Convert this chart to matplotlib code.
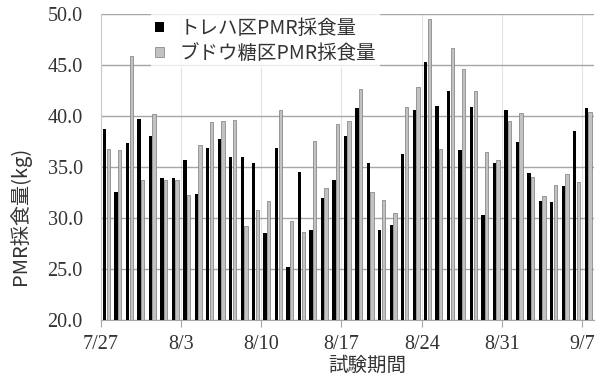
import numpy as np
import matplotlib
matplotlib.use("Agg")
import matplotlib.pyplot as plt

# Daily PMR intake (kg), 7/27 .. 9/7
treha = [38.7, 32.5, 37.3, 39.7, 38.0, 33.9, 33.9, 35.7, 32.3, 36.8,
         37.7, 36.0, 36.0, 35.4, 28.5, 36.8, 25.2, 34.5, 28.8, 31.9,
         33.7, 38.0, 40.8, 35.4, 28.8, 29.3, 36.3, 40.6, 45.3, 41.0,
         42.4, 36.6, 40.9, 30.3, 35.4, 40.6, 37.4, 34.4, 31.6, 31.5,
         33.1, 38.5, 40.8]
glucose = [36.7, 36.6, 45.9, 33.7, 40.2, 33.7, 33.7, 32.2, 37.1, 39.4,
           39.5, 39.6, 29.2, 30.8, 31.6, 40.6, 29.7, 28.6, 37.5, 32.9,
           39.2, 39.5, 42.6, 32.5, 31.7, 30.5, 40.9, 42.8, 49.5, 36.7,
           46.7, 44.6, 42.4, 36.4, 35.7, 39.5, 40.3, 34.0, 32.1, 33.2,
           34.3, 33.5, 40.4]
tick_labels = ["7/27", "8/3", "8/10", "8/17", "8/24", "8/31", "9/7"]
series_names = ["トレハ区PMR採食量", "ブドウ糖区PMR採食量"]

JP = ["Noto Sans CJK JP", "DejaVu Sans"]
NUM = "Liberation Serif"

fig = plt.figure(figsize=(6.14, 3.76), dpi=100)
ax = fig.add_axes([0.164, 0.150, 0.803, 0.813])

n = len(treha)
x = np.arange(n) + 0.5
w = 0.29
ax.bar(x - 0.16, treha, width=w, color="black", zorder=3, label=series_names[0])
ax.bar(x + 0.16, glucose, width=w, color="#c2c2c2", edgecolor="#7a7a7a",
       linewidth=0.5, zorder=3, label=series_names[1])

ax.set_xlim(0, n)
ax.set_ylim(20, 50)
ax.set_yticks(np.arange(20, 50.1, 5))
ax.set_yticklabels([f"{v:.1f}" for v in np.arange(20, 50.1, 5)],
                   fontfamily=NUM, fontsize=14.5)
ax.set_xticks(np.arange(0, n, 7))
ax.set_xticklabels(tick_labels, fontfamily=NUM, fontsize=14.5)

ax.grid(axis="y", color="#a6a6a6", linewidth=1.0, zorder=0)
ax.grid(axis="x", color="#e2e2e2", linewidth=0.8, zorder=0)
ax.set_axisbelow(True)

for s in ["top", "right"]:
    ax.spines[s].set_visible(False)
ax.spines["left"].set_color("#c8c8c8")
ax.spines["bottom"].set_color("#a6a6a6")
ax.tick_params(axis="y", length=0, pad=13, colors="#333333")
ax.tick_params(axis="x", length=5, color="#a6a6a6", pad=6, colors="#333333")

ax.set_ylabel("PMR採食量(kg)", fontfamily=JP, fontsize=14.5, color="#333333")
ax.yaxis.set_label_coords(-0.142, 0.34)
ax.set_xlabel("試験期間", fontfamily=JP, fontsize=14, color="#333333", labelpad=-2)
ax.xaxis.set_label_coords(0.54, -0.115)

leg = ax.legend(loc="upper left", bbox_to_anchor=(0.102, 1.0), frameon=True,
                prop={"family": JP, "size": 14}, handlelength=0.45,
                handleheight=0.45, handletextpad=0.8, labelspacing=0.2,
                borderpad=0.2, borderaxespad=0.0, fancybox=False)
leg.get_frame().set_edgecolor("none")
leg.get_frame().set_facecolor("white")
for t in leg.get_texts():
    t.set_color("#333333")

fig.savefig("out.png", dpi=100)
